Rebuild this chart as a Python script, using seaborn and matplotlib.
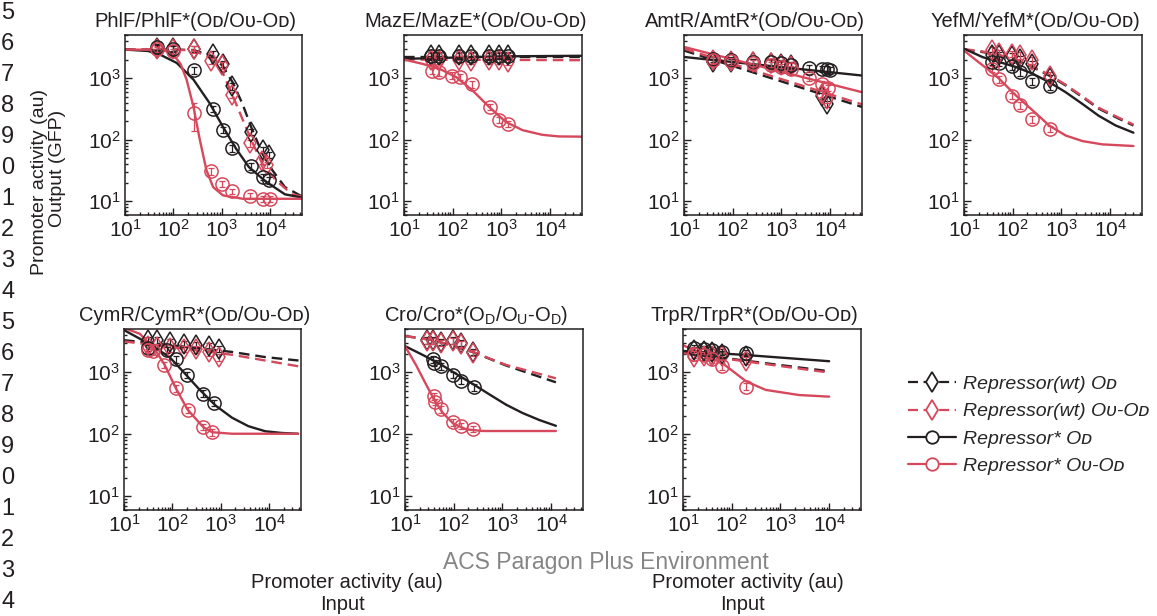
import matplotlib
matplotlib.use("Agg")
import matplotlib.pyplot as plt
from matplotlib import font_manager
from matplotlib.lines import Line2D
from matplotlib.ticker import LogLocator
import seaborn as sns

# ---------------- values ----------------
# keys: wt_od = Repressor(wt) OD, wt_ou = Repressor(wt) OU-OD,
#       mu_od = Repressor* OD,   mu_ou = Repressor* OU-OD
phlf_pts = dict(
    wt_od=([46, 97, 260, 660, 1050, 1600, 4000, 7000, 9300], [3100, 3100, 3000, 2500, 1700, 730, 135, 68, 57]),
    wt_ou=([46, 97, 260, 600, 1000, 1640, 3800, 6600, 8700], [3000, 3000, 2950, 1900, 1600, 540, 87, 45, 39]),
    mu_od=([46, 97, 260, 660, 1050, 1620, 4000, 7000, 9500], [3200, 3000, 1330, 315, 145, 73, 37, 25, 22]),
    mu_ou=([46, 97, 260, 600, 1000, 1600, 3800, 7000, 10000], [2950, 2700, 270, 31, 19, 14.5, 12.3, 10.8, 11]),
)
phlf_err_mu_ou = [300, 300, 130, 4, 2, 1.5, 1.2, 1.2, 1.2]
phlf_fit = dict(
    wt_od=([10, 100, 260, 660, 1050, 1700, 2700, 4000, 6800, 11000, 20000, 45000], [2900, 2900, 2850, 2250, 1550, 830, 370, 162, 60, 32, 17, 12]),
    wt_ou=([10, 100, 260, 600, 1050, 1700, 2700, 4000, 6800, 13000, 28000, 45000], [2900, 2900, 2800, 2100, 1200, 500, 210, 100, 41, 22, 13, 12]),
    mu_od=([10, 30, 53, 117, 260, 560, 1050, 1950, 3600, 8000, 20000, 45000], [2900, 2750, 2400, 1760, 940, 390, 162, 72, 36, 21, 13, 11.5]),
    mu_ou=([10, 40, 70, 93, 140, 187, 258, 350, 480, 660, 1050, 2700, 45000], [2900, 2880, 2750, 2560, 1700, 940, 346, 100, 32, 17, 12.5, 11, 11]),
)

maze_pts = dict(
    wt_od=([36, 53, 137, 235, 560, 890, 1370], [2350, 2400, 2400, 2380, 2350, 2400, 2400]),
    wt_ou=([36, 53, 137, 235, 560, 890, 1370], [1950, 1950, 2000, 1900, 1950, 1930, 1850]),
    mu_od=([36, 53, 137, 235, 560, 890, 1370], [2250, 2250, 2300, 2250, 2250, 2300, 2300]),
    mu_ou=([38, 53, 95, 140, 245, 580, 870, 1370], [1300, 1250, 1100, 1040, 790, 340, 210, 180]),
)
maze_fit = dict(
    wt_od=([10, 45000], [2200, 2200]),
    wt_ou=([10, 45000], [2000, 1950]),
    mu_od=([10, 1000, 45000], [2050, 2250, 2300]),
    mu_ou=([10, 24, 53, 117, 255, 560, 1220, 2700, 6900, 15000, 45000], [2000, 1700, 1420, 1040, 630, 340, 195, 143, 120, 113, 112]),
)

amtr_pts = dict(
    wt_od=([39, 93, 260, 600, 970, 1550, 6900, 8700], [1820, 1850, 1820, 1750, 1700, 1600, 520, 380]),
    wt_ou=([40, 93, 260, 600, 970, 1550, 6900, 8700], [1950, 1900, 1800, 1750, 1650, 1550, 560, 450]),
    mu_od=([39, 93, 260, 600, 970, 1550, 3600, 6900, 8700, 10000], [2050, 1950, 1850, 1800, 1750, 1650, 1450, 1420, 1380, 1330]),
    mu_ou=([40, 93, 260, 600, 970, 1550, 3600, 6900, 9000], [2000, 1860, 1750, 1650, 1500, 1420, 1000, 810, 700]),
)
amtr_fit = dict(
    wt_od=([10, 45000], [2800, 340]),
    wt_ou=([10, 45000], [3000, 375]),
    mu_od=([10, 45000], [2200, 1100]),
    mu_ou=([10, 45000], [3200, 590]),
)

yefm_pts = dict(
    wt_od=([38, 53, 95, 140, 245, 580], [2330, 2330, 2250, 2060, 1670, 1000]),
    wt_ou=([38, 53, 95, 140, 245, 580], [2810, 2550, 2480, 2330, 1940, 1100]),
    mu_od=([38, 53, 95, 140, 245, 580], [1820, 1760, 1550, 1250, 880, 730]),
    mu_ou=([38, 53, 95, 140, 245, 580], [1420, 960, 520, 360, 215, 150]),
)
yefm_fit = dict(
    wt_od=([10, 24, 53, 117, 255, 560, 1220, 2700, 5800, 13000, 30000], [2900, 2650, 2330, 1930, 1510, 1100, 760, 490, 320, 232, 170]),
    wt_ou=([10, 24, 53, 117, 255, 560, 1220, 2700, 5800, 13000, 30000], [2950, 2700, 2380, 1980, 1550, 1130, 780, 505, 330, 240, 176]),
    mu_od=([10, 24, 53, 117, 255, 560, 1220, 2700, 5800, 13000, 30000], [3000, 2190, 1820, 1510, 1180, 860, 590, 380, 245, 170, 130]),
    mu_ou=([10, 18, 33, 53, 117, 255, 560, 1220, 2700, 6900, 30000], [2800, 1930, 1330, 970, 520, 300, 170, 117, 95, 84, 79]),
)

cymr_pts = dict(
    wt_od=([31, 47, 87, 175, 300, 570, 910], [3300, 3300, 3100, 2900, 2800, 2700, 2400]),
    wt_ou=([31, 47, 87, 175, 300, 570, 910], [2700, 2560, 2450, 2400, 2350, 2120, 1760]),
    mu_od=([31, 76, 118, 198, 435, 720], [2500, 2300, 1610, 910, 455, 325]),
    mu_ou=([31, 40, 66, 118, 205, 430, 660], [2300, 2200, 1320, 550, 250, 131, 108]),
)
cymr_fit = dict(
    wt_od=([10, 355, 1700, 8200, 40000], [3300, 2450, 2130, 1760, 1550]),
    wt_ou=([10, 355, 1700, 8200, 40000], [3150, 2240, 1920, 1550, 1250]),
    mu_od=([10, 21, 47, 87, 160, 355, 780, 1700, 3700, 8200, 18000, 39000], [4800, 3500, 2400, 1760, 1060, 535, 290, 185, 135, 112, 105, 102]),
    mu_ou=([10, 21, 31, 47, 69, 118, 205, 430, 660, 1700, 39000], [5200, 4200, 3100, 2130, 1320, 550, 250, 131, 108, 102, 102]),
)

cro_pts = dict(
    wt_od=([28, 38, 56, 97, 144, 245], [3300, 3300, 3100, 3300, 3000, 2150]),
    wt_ou=([28, 38, 56, 97, 144, 245], [3200, 3200, 3000, 3200, 2900, 2070]),
    mu_od=([37, 40, 56, 97, 144, 255], [1610, 1420, 1250, 910, 730, 570]),
    mu_ou=([39, 41, 56, 97, 144, 245], [410, 335, 255, 155, 137, 123]),
)
cro_fit = dict(
    wt_od=([10, 38, 245, 1180, 12500], [3850, 3300, 2130, 1290, 690]),
    wt_ou=([10, 38, 245, 1180, 12500], [3850, 3300, 2130, 1320, 800]),
    mu_od=([10, 24, 52, 113, 250, 540, 1190, 2600, 5700, 12500], [2650, 1880, 1370, 940, 645, 440, 300, 220, 170, 137]),
    mu_ou=([10, 17, 28, 41, 60, 97, 180, 400, 12500], [2650, 1290, 605, 345, 220, 150, 120, 113, 113]),
)

trpr_pts = dict(
    wt_od=([17, 27, 40, 63, 200], [2250, 2200, 2130, 2000, 1800]),
    wt_ou=([17, 27, 40, 63, 200], [1750, 1800, 1800, 1800, 1550]),
    mu_od=([17, 27, 40, 63, 200], [2440, 2350, 2270, 2130, 2070]),
    mu_ou=([17, 27, 40, 63, 200], [1950, 1900, 1610, 1250, 590]),
)
trpr_fit = dict(
    wt_od=([10, 10000], [2070, 1040]),
    wt_ou=([10, 10000], [2050, 990]),
    mu_od=([10, 200, 10000], [2210, 1900, 1510]),
    mu_ou=([10, 22, 63, 200, 500, 2400, 10000], [2740, 2070, 1420, 710, 520, 430, 405]),
)

SC_D, SC_U = "\u1d05", "\u1d1c"
names = ["PhlF", "MazE", "AmtR", "YefM", "CymR", "Cro", "TrpR"]
line_digits = "56789012345678901234"

# ---------------- styling ----------------
BLACK = "#231f20"
RED = "#d6485c"
ERR_FRAC = 0.12
series_style = {
    "wt_od": (BLACK, "d", "--"),
    "wt_ou": (RED, "d", "--"),
    "mu_od": (BLACK, "o", "-"),
    "mu_ou": (RED, "o", "-"),
}
order = ["wt_od", "wt_ou", "mu_od", "mu_ou"]

installed = {f.name for f in font_manager.fontManager.ttflist}
MAIN = "Liberation Sans"
NARROW = "Liberation Sans Narrow" if "Liberation Sans Narrow" in installed else MAIN

sns.set_style("ticks")
plt.rcParams["font.family"] = [MAIN, "DejaVu Sans"]
plt.rcParams["mathtext.fontset"] = "custom"
plt.rcParams["mathtext.rm"] = MAIN
plt.rcParams["mathtext.default"] = "regular"
plt.rcParams["lines.dashed_pattern"] = [4.5, 2.5]

fig = plt.figure(figsize=(11.57, 6.16), dpi=100)
W, H = 1157, 616

# axes boxes in pixels: left, top, right, bottom
boxes = [(125, 35, 302, 215), (404, 35, 582, 215), (684, 35, 862, 215), (964, 35, 1142, 215),
         (124, 329, 301, 510), (405, 329, 583, 510), (683, 329, 861, 510)]
panels = [(phlf_pts, phlf_fit), (maze_pts, maze_fit), (amtr_pts, amtr_fit), (yefm_pts, yefm_fit),
          (cymr_pts, cymr_fit), (cro_pts, cro_fit), (trpr_pts, trpr_fit)]

for i, ((l, t, r, b), (pts, fit)) in enumerate(zip(boxes, panels)):
    ax = fig.add_axes([l / W, 1 - b / H, (r - l) / W, (b - t) / H])
    ax.set_xscale("log")
    ax.set_yscale("log")
    for key in order:
        c, m, ls = series_style[key]
        fx, fy = fit[key]
        sns.lineplot(x=fx, y=fy, ax=ax, color=c, linestyle=ls, lw=1.7,
                     estimator=None, sort=False, legend=False, zorder=2)
    for key in order:
        c, m, ls = series_style[key]
        px, py = pts[key]
        if i == 0 and key == "mu_ou":
            err = phlf_err_mu_ou
        else:
            err = [v * ERR_FRAC for v in py]
        ax.errorbar(px, py, yerr=err, fmt="none", ecolor=c, elinewidth=0.9,
                    capsize=2, capthick=0.9, zorder=3)
        sns.lineplot(x=px, y=py, ax=ax, color=c, linestyle="", marker=m,
                     markersize=10.5 if m == "d" else 9.5, markerfacecolor="none",
                     markeredgecolor=c, markeredgewidth=1.1,
                     estimator=None, sort=False, legend=False, zorder=4)
    ax.set_xlim(10, 45000)
    ax.set_ylim(6, 5000)
    for axis in (ax.xaxis, ax.yaxis):
        axis.set_major_locator(LogLocator(base=10, numticks=12))
        axis.set_minor_locator(LogLocator(base=10, subs=range(2, 10), numticks=12))
    ax.set_xlabel("")
    ax.set_ylabel("")
    ax.tick_params(which="both", direction="in", top=False, right=False,
                   labelsize=15, width=1, color=BLACK, labelcolor=BLACK)
    ax.tick_params(which="major", length=5, pad=3)
    ax.tick_params(which="minor", length=2.5)
    for sp in ax.spines.values():
        sp.set_linewidth(1.1)
        sp.set_color(BLACK)
    if names[i] == "Cro":
        title = "Cro/Cro*(O$_\\mathregular{D}$/O$_\\mathregular{U}$-O$_\\mathregular{D}$)"
    else:
        title = f"{names[i]}/{names[i]}*(O{SC_D}/O{SC_U}-O{SC_D})"
    ax.set_title(title, fontsize=14.5, x=0.4, pad=6, color=BLACK)

# legend
handles = []
labels = [f"Repressor(wt) O{SC_D}", f"Repressor(wt) O{SC_U}-O{SC_D}",
          f"Repressor* O{SC_D}", f"Repressor* O{SC_U}-O{SC_D}"]
for key in order:
    c, m, ls = series_style[key]
    handles.append(Line2D([], [], color=c, linestyle=ls, lw=1.6, marker=m,
                          markersize=10 if m == "d" else 9, markerfacecolor="white",
                          markeredgecolor=c, markeredgewidth=1.3))
fig.legend(handles, labels, loc="upper left", bbox_to_anchor=(890 / W, 1 - 358 / H),
           frameon=False, handlelength=2.5, handletextpad=0.35, labelspacing=0.5,
           prop={"family": [MAIN, "DejaVu Sans"], "style": "italic", "size": 14})

# axis texts
fig.text(40 / W, 1 - 182 / H, "Promoter activity (au)", rotation=90, ha="center",
         va="center", fontsize=14, family=NARROW, color=BLACK)
fig.text(58 / W, 1 - 168 / H, "Output (GFP)", rotation=90, ha="center",
         va="center", fontsize=14, family=NARROW, color=BLACK)
for cx in (347, 748):
    fig.text(cx / W, 1 - 582 / H, "Promoter activity (au)", ha="center", va="center",
             fontsize=14.5, family=NARROW, color=BLACK)
    fig.text((cx - 5) / W, 1 - 605 / H, "Input", ha="center", va="center",
             fontsize=14.5, family=NARROW, color=BLACK)
fig.text(606 / W, 1 - 562 / H, "ACS Paragon Plus Environment", ha="center", va="center",
         fontsize=16.5, family=NARROW, color="#858585")

# manuscript line numbers along the page edge
for k, d in enumerate(line_digits):
    fig.text(1 / W, 1 - (13 + k * 31.0) / H, d, ha="left", va="center",
             fontsize=17, color=BLACK)

fig.savefig("out.png", dpi=100)
